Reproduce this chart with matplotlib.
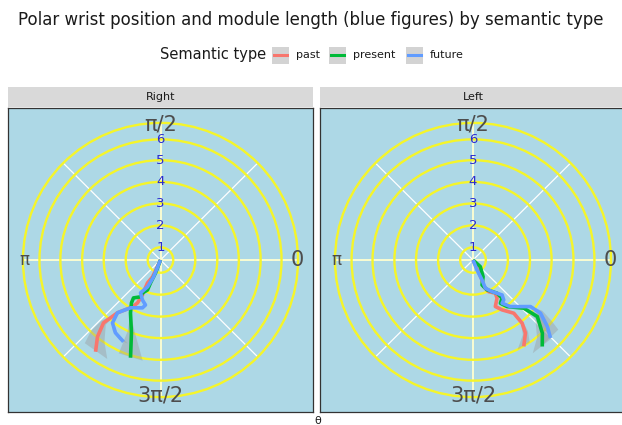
import numpy as np
import matplotlib.pyplot as plt
from matplotlib.patches import Rectangle, Circle
from matplotlib.lines import Line2D

W, H = 622, 425

# trajectories: angle (degrees) and radius, per side and semantic type
right_past_theta = [0, 244.8, 240.5, 241.9, 242.8, 241.9, 239.2, 230.9, 227.9, 230.7, 234.8]
right_past_r = [0, 0.85, 1.2, 1.55, 1.79, 2.22, 2.49, 3.10, 3.86, 4.52, 5.12]
right_past_se = [0, 0, 0, 0, 0, 0, 0, 0, 2, 5, 7]

right_present_theta = [0, 249, 246.5, 246.6, 241.4, 241.6, 234.6, 236, 240.5, 248.3, 253]
right_present_r = [0, 0.63, 1.14, 1.49, 1.71, 1.91, 2.12, 2.36, 2.77, 3.57, 4.66]
right_present_se = [0, 0, 0, 0, 0, 0, 0, 0, 0, 3, 7]

right_future_theta = [0, 247.6, 244.3, 238.8, 245.8, 251.6, 249.4, 238, 230.9, 232.7, 238.3, 245.7]
right_future_r = [0, 0.84, 1.36, 1.75, 2.0, 2.16, 2.33, 2.57, 3.10, 3.6, 3.9, 4.09]
right_future_se = [0, 0, 0, 0, 0, 0, 0, 0, 0, 1, 2, 3]

left_past_theta = [0, 295.7, 294.2, 291.7, 296.2, 303.8, 302.1, 295.5, 300.1, 307.3, 307.7, 305.5, 300.3]
left_past_r = [0, 0.42, 1.0, 1.31, 1.61, 1.82, 2.05, 2.35, 2.63, 3.05, 3.64, 4.09, 4.56]
left_past_se = [0, 0, 0, 0, 0, 0, 0, 0, 0, 0, 1, 2, 4]

left_present_theta = [0, 317.5, 300.9, 289.8, 295, 305.8, 307.1, 302.2, 306.1, 316.3, 318.5, 313.3, 308.5]
left_present_r = [0, 0.45, 0.89, 1.21, 1.5, 1.87, 2.18, 2.33, 2.63, 3.18, 3.89, 4.58, 5.04]
left_present_se = [0, 0, 0, 0, 0, 0, 0, 0, 0, 0, 2, 4, 6]

left_future_theta = [0, 291.8, 294.2, 293.5, 300.9, 309.6, 307.4, 303.8, 308.6, 320.8, 321.6, 318, 314.6]
left_future_r = [0, 0.49, 1.0, 1.4, 1.68, 2.07, 2.29, 2.37, 2.72, 3.36, 3.9, 4.53, 5.0]
left_future_se = [0, 0, 0, 0, 0, 0, 0, 0, 0, 0, 2, 4, 6]

types = ['past', 'present', 'future']
type_colors = ['#F8766D', '#00BA38', '#619CFF']
module_labels = ['1', '2', '3', '4', '5', '6']
ring_radius = [0.58, 1.58, 2.58, 3.56, 4.55, 5.5, 6.25]
angle_labels = ['0', 'π/2', 'π', '3π/2']

panels = {
    'Right': [(right_past_theta, right_past_r, right_past_se),
              (right_present_theta, right_present_r, right_present_se),
              (right_future_theta, right_future_r, right_future_se)],
    'Left': [(left_past_theta, left_past_r, left_past_se),
             (left_present_theta, left_present_r, left_present_se),
             (left_future_theta, left_future_r, left_future_se)],
}


def px_axes(fig, x0, y0, x1, y1):
    return fig.add_axes([x0 / W, 1 - y1 / H, (x1 - x0) / W, (y1 - y0) / H])


def draw_panel(ax, series):
    lim = 6.93
    ax.set_xlim(-lim, lim)
    ax.set_ylim(-lim, lim)
    ax.set_facecolor('#ADD8E6')
    ax.set_xticks([])
    ax.set_yticks([])
    for s in ax.spines.values():
        s.set_color('#333333')
        s.set_linewidth(0.9)
    R = ring_radius[-1]
    for a in [45, 135, 225, 315]:
        t = np.radians(a)
        ax.plot([0, R * np.cos(t)], [0, R * np.sin(t)], color='white', lw=0.9, zorder=1)
    ax.plot([-R, R], [0, 0], color='#FFFFD0', lw=1.3, zorder=1)
    ax.plot([0, 0], [-R, R], color='#FFFFD0', lw=1.3, zorder=1)
    for rr in ring_radius:
        ax.add_patch(Circle((0, 0), rr, fill=False, ec='#F5F52A', lw=1.7, zorder=2))
    for lab, rr in zip(module_labels, ring_radius):
        ax.text(0, rr, lab, color='#2B2BCF', fontsize=9.5, ha='center', va='center', zorder=6)
    lr = 6.2
    for lab, a in zip(angle_labels, [0, 90, 180, 270]):
        t = np.radians(a)
        ax.text(lr * np.cos(t), lr * np.sin(t), lab, color='#4D4D4D',
                fontsize=15 if lab != 'π' else 12, ha='center', va='center', zorder=6)
    for (th, r, se), col in zip(series, type_colors):
        th = np.radians(np.array(th))
        r = np.array(r)
        se = np.radians(np.array(se))
        up = th + se
        lo = th - se
        px = np.concatenate([r * np.cos(up), (r * np.cos(lo))[::-1]])
        py = np.concatenate([r * np.sin(up), (r * np.sin(lo))[::-1]])
        ax.fill(px, py, color='#999999', alpha=0.4, lw=0, zorder=3)
    for (th, r, se), col in zip(series, type_colors):
        th = np.radians(np.array(th))
        r = np.array(r)
        ax.plot(r * np.cos(th), r * np.sin(th), color=col, lw=2.6, zorder=4,
                solid_capstyle='butt', solid_joinstyle='round')


fig = plt.figure(figsize=(W / 100, H / 100), dpi=100)

boxes = {'Right': (8, 313), 'Left': (320, 626)}
for name, (x0, x1) in boxes.items():
    strip = px_axes(fig, x0, 87, x1, 107)
    strip.set_facecolor('#D9D9D9')
    strip.set_xticks([])
    strip.set_yticks([])
    for s in strip.spines.values():
        s.set_visible(False)
    strip.text(0.5, 0.5, name, ha='center', va='center', fontsize=8, color='#1A1A1A',
               transform=strip.transAxes)
    ax = px_axes(fig, x0, 108, x1, 412)
    draw_panel(ax, panels[name])

fig.text(0.5, 1 - 20 / H, 'Polar wrist position and module length (blue figures) by semantic type',
         ha='center', va='center', fontsize=12, color='#1A1A1A')

# legend
ly = 1 - 55 / H
fig.text(160 / W, ly, 'Semantic type', ha='left', va='center', fontsize=10.5, color='#1A1A1A')
key_x = [272, 329, 406]
for kx, lab, col in zip(key_x, types, type_colors):
    fig.patches.append(Rectangle((kx / W, 1 - 64 / H), 17 / W, 17 / H, transform=fig.transFigure,
                                 facecolor='#D3D3D3', edgecolor='none'))
    fig.lines.append(Line2D([(kx + 2) / W, (kx + 15) / W], [ly, ly], transform=fig.transFigure,
                            color=col, lw=2.2))
    fig.text((kx + 24) / W, ly, lab, ha='left', va='center', fontsize=8, color='#1A1A1A')

fig.text(318 / W, 1 - 421 / H, 'θ', ha='center', va='center', fontsize=8, color='#1A1A1A')

fig.savefig('out.png', dpi=100)
